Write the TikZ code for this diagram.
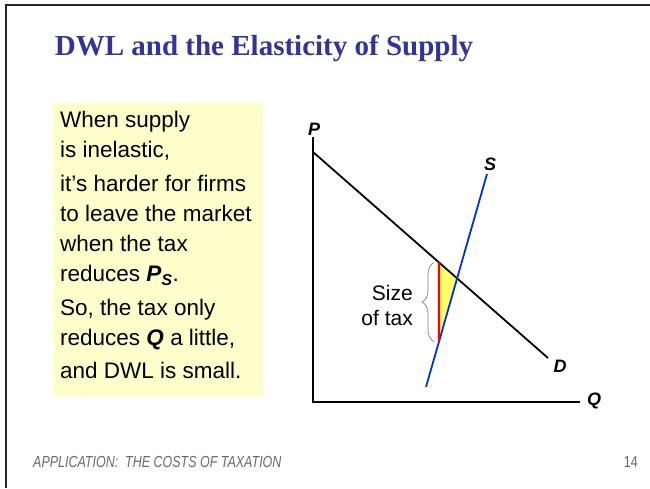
\documentclass[tikz,border=0pt]{standalone}
\usepackage{fontspec}
\setmainfont{Liberation Sans}
\newfontfamily\titlefont{Liberation Serif}
\newfontfamily\footfont[FakeStretch=0.78]{Liberation Sans}
\usepackage{tikz}
\usetikzlibrary{calc,decorations.pathreplacing}

\definecolor{titleblue}{RGB}{51,51,153}
\definecolor{notebg}{RGB}{255,255,204}
\definecolor{dwlyellow}{RGB}{255,255,102}
\definecolor{suplblue}{RGB}{0,51,204}
\definecolor{footgray}{RGB}{105,105,105}

\begin{document}
\begin{tikzpicture}[x=1pt,y=-1pt,
    axis/.style={line width=1.4pt},
    curve/.style={line width=1.8pt},
    axlbl/.style={font=\fontsize{18}{20}\selectfont\bfseries\itshape, inner sep=0pt},
    note/.style={anchor=north west, align=left, inner sep=0pt,
                 font=\fontsize{22.5}{30}\selectfont}]
    % Folie med ramme oppe og til venstre
    \useasboundingbox (0,0) rectangle (650,488);
    \fill[white] (0,0) rectangle (650,488);
    \draw[line width=2.6pt,black!85] (6,488) -- (6,5) -- (650,5);
    % Overskrift
    \node[titleblue,anchor=base,font=\titlefont\bfseries\fontsize{29}{32}\selectfont] (title) at (264,55) {DWL and the Elasticity of Supply};
    % Gul tekstboks
    \fill[notebg] (53,103) rectangle (263,397);
    \node[note] (note) at (60,111) {When supply\\is inelastic,\\[3.8pt]
      it’s harder for firms\\to leave the market\\when the tax\\reduces \textbf{\textit{P}\textsubscript{\textit{S}}}.\\[3.8pt]
      So, the tax only\\reduces \textbf{\textit{Q}} a little,\\[3.8pt]
      and DWL is small.};
    % Akser
    \coordinate (O) at (313,402);
    \coordinate (Ptop) at (313,137);
    \coordinate (Qend) at (580,402);
    \draw[axis] (Ptop) -- (O) -- (Qend);
    \node[axlbl] (plbl) at (314,129) {P};
    \node[axlbl] (qlbl) at (594,401) {Q};
    % Efterspoergsel og udbud
    \coordinate (D1) at (313,152);
    \coordinate (D2) at (548,358);
    \coordinate (S1) at (426,387);
    \coordinate (S2) at (487,174);
    \coordinate (E) at (intersection of D1--D2 and S1--S2);
    \coordinate (Ta) at (439,0);
    \coordinate (Tb) at (439,488);
    \coordinate (Dt) at (intersection of D1--D2 and Ta--Tb);
    \coordinate (St) at (intersection of S1--S2 and Ta--Tb);
    % DWL-trekant tegnes foer kurverne
    \fill[dwlyellow] (Dt) -- (E) -- (St) -- cycle;
    \draw[curve] (D1) -- (D2);
    \draw[curve,suplblue] (S1) -- (S2);
    \draw[line width=2.2pt,red] (Dt) -- (St);
    \node[axlbl] (dlbl) at (560,366) {D};
    \node[axlbl] (slbl) at (490,164) {S};
    % Klamme for skattens stoerrelse
    \coordinate (Bb) at ($(St)+(-5,0)$);
    \coordinate (Bt) at ($(Dt)+(-5,0)$);
    \draw[gray,line width=0.7pt,decorate,decoration={brace,amplitude=12pt}] (Bb) -- (Bt);
    \node[anchor=east,align=right,inner sep=0pt,font=\fontsize{21}{25}\selectfont] (taxlbl) at (413,305) {Size\\of tax};
    % Sidefod
    \node[footgray,anchor=base west,inner sep=0pt,font=\footfont\itshape\fontsize{16}{18}\selectfont] (foot) at (33,467) {APPLICATION:\ \ THE COSTS OF TAXATION};
    \node[footgray,anchor=base east,inner sep=0pt,font=\footfont\fontsize{16}{18}\selectfont] (pgno) at (638,467) {14};
  \end{tikzpicture}
\end{document}
